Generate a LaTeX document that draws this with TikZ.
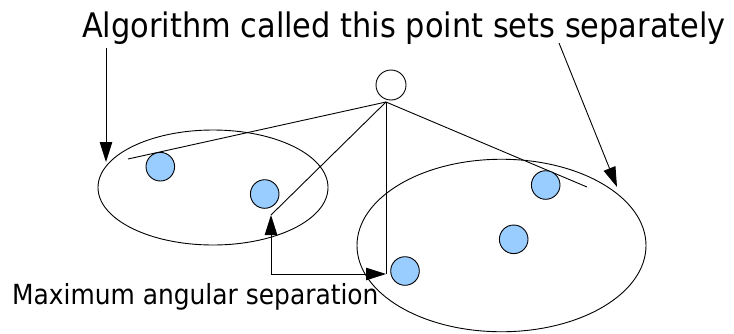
\documentclass[tikz,border=0pt]{standalone}
\usepackage{fontspec}
\setmainfont{DejaVu Sans Condensed}
\usetikzlibrary{shapes.geometric,arrows.meta}
\definecolor{dotblue}{HTML}{99CCFF}
\tikzset{
  thin line/.style={line width=0.9pt, draw=black},
  arr/.style={thin line, -{Triangle[length=20pt,width=12.5pt]}},
  dbl/.style={thin line, {Triangle[length=20pt,width=12.5pt]}-{Triangle[length=20pt,width=12.5pt]}},
  setellipse/.style={ellipse, thin line, inner sep=0pt},
  dot/.style={circle, thin line, fill=dotblue, minimum size=28.6pt, inner sep=0pt},
  origin/.style={circle, thin line, fill=white, minimum size=30pt, inner sep=0pt},
  lbl/.style={inner sep=0pt, anchor=base west}
}
\begin{document}
\begin{tikzpicture}[x=1pt,y=-1pt]
\useasboundingbox (0,0) rectangle (734,333);
\fill[white] (0,0) rectangle (734,333);
% ellipses
\node[setellipse, minimum width=230pt, minimum height=115pt] (leftset) at (213,187.5) {};
\node[setellipse, minimum width=289pt, minimum height=172.5pt] (rightset) at (501.5,245.5) {};
% observer circle
\node[origin] (obs) at (391,85) {};
\coordinate (apex) at (386,102);
\coordinate (l1) at (128,159);
\coordinate (l2) at (271,215);
\coordinate (l3) at (386,274);
\coordinate (l4) at (587,187);
% rays
\draw[thin line] (apex) -- (l1);
\draw[thin line] (apex) -- (l2);
\draw[thin line] (apex) -- (l3);
\draw[thin line] (apex) -- (l4);
% points
\node[dot] (p1) at (160.3,166.7) {};
\node[dot] (p2) at (264.7,194) {};
\node[dot] (p3) at (545.7,185) {};
\node[dot] (p4) at (513.7,239.3) {};
\node[dot] (p5) at (405,271) {};
% angular separation arrow
\draw[dbl] (l2) |- (l3);
% labels
\node[lbl, font=\fontsize{33.8}{40}\selectfont] (title) at (82,37) {Algorithm called this point sets separately};
\node[lbl, font=\fontsize{27.7}{33}\selectfont] (maxlbl) at (12,304) {Maximum angular separation};
% title arrows
\coordinate (t1) at (106,48);
\coordinate (t1e) at (106,162);
\coordinate (t2) at (559,43);
\coordinate (t2e) at (617,187);
\draw[arr] (t1) -- (t1e);
\draw[arr] (t2) -- (t2e);
\end{tikzpicture}
\end{document}
